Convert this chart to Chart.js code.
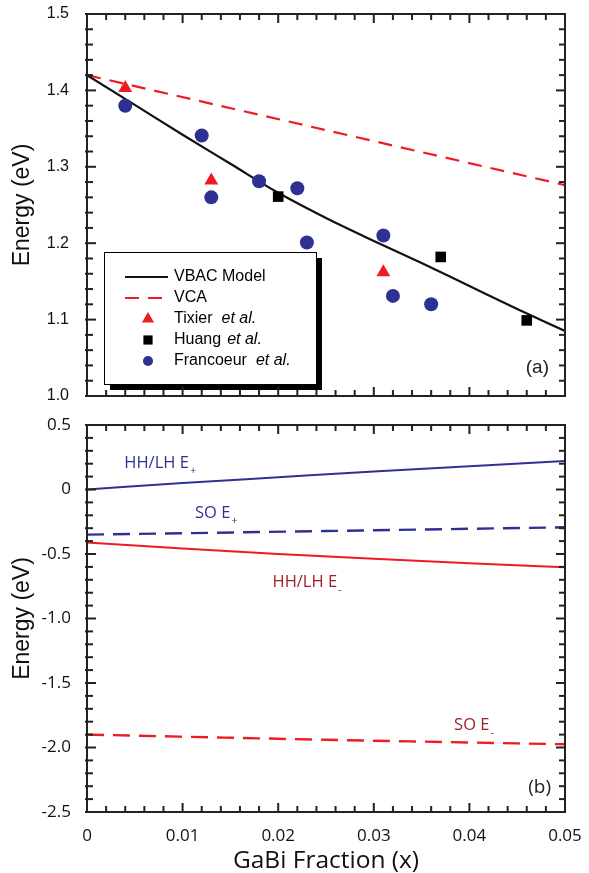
<!DOCTYPE html>
<html>
<head>
<script src="https://cdn.jsdelivr.net/npm/chart.js@4.4.1/dist/chart.umd.min.js"></script>
<style>
body{margin:0;background:#fff;}
canvas{position:absolute;left:0;}
#top{top:0;}
#bot{top:410px;}
</style>
</head>
<body>
<canvas id="top" width="589" height="410"></canvas>
<canvas id="bot" width="589" height="463"></canvas>
<script>
// panel (a): band gap vs GaBi fraction
var modelX=[0,0.005,0.01,0.015,0.02,0.025,0.03,0.035,0.04,0.045,0.05];
var vbacE=[1.42,1.381,1.342,1.304,1.266,1.233,1.203,1.174,1.144,1.114,1.085];
var vcaX=[0,0.05];
var vcaE=[1.42,1.276];
var tixierX=[0.004,0.013,0.031];
var tixierE=[1.403,1.282,1.162];
var huangX=[0.020,0.037,0.046];
var huangE=[1.261,1.182,1.099];
var francX=[0.004,0.012,0.013,0.018,0.022,0.023,0.031,0.032,0.036];
var francE=[1.380,1.341,1.260,1.281,1.272,1.201,1.210,1.131,1.120];

// panel (b): band edges
var hhPlusX=[0,0.01,0.02,0.03,0.04,0.05];
var hhPlusE=[0,0.05,0.095,0.14,0.18,0.22];
var soPlusX=[0,0.025,0.05];
var soPlusE=[-0.35,-0.322,-0.293];
var hhMinusX=[0,0.01,0.02,0.03,0.04,0.05];
var hhMinusE=[-0.41,-0.458,-0.50,-0.537,-0.571,-0.603];
var soMinusX=[0,0.025,0.05];
var soMinusE=[-1.90,-1.94,-1.975];

// curve labels in panel (b): text, subscript, x, y (data units)
var bandLabelText=['HH/LH E','SO E','HH/LH E','SO E'];
var bandLabelSub=['+','+','-','-'];
var bandLabelX=[0.0039,0.0113,0.0194,0.0384];
var bandLabelY=[0.2,-0.186,-0.72,-1.83];

var BLUE='#2e3192', RED='#ed1c24', DARKRED='#9e1f24';
var MYR='"Open Sans", "Noto Sans", sans-serif';
var HEL='"Liberation Sans", Arial, sans-serif';

function pts(xs,ys){ return xs.map(function(x,i){ return {x:x,y:ys[i]}; }); }

// fixed axis box sizes, no label overflow padding
function fixW(w){ return function(s){ s.width=w; s.paddingTop=0; s.paddingBottom=0; }; }
function fixH(h){ return function(s){ s.height=h; s.paddingLeft=0; s.paddingRight=0; }; }

// frame + inward ticks on all four sides
function frameTicks(xMaj,xMin,yMaj,yMin){
  return {
    id:'frameTicks',
    afterDraw:function(chart){
      var a=chart.chartArea,c=chart.ctx,xs=chart.scales.x,ys=chart.scales.y;
      c.save();
      c.setLineDash([]);
      c.strokeStyle='#222';
      c.lineWidth=2;
      c.strokeRect(a.left,a.top,a.right-a.left,a.bottom-a.top);
      c.fillStyle='#222';
      var n=Math.round((xs.max-xs.min)/xMin);
      for(var i=0;i<=n;i++){
        var v=xs.min+i*xMin, p=xs.getPixelForValue(v);
        var r=v/xMaj, L=Math.abs(r-Math.round(r))<1e-6?9:6;
        c.fillRect(p-1,a.bottom-L,2,L);
        c.fillRect(p-1,a.top,2,L);
      }
      n=Math.round((ys.max-ys.min)/yMin);
      for(i=0;i<=n;i++){
        v=ys.min+i*yMin; p=ys.getPixelForValue(v);
        r=v/yMaj; L=Math.abs(r-Math.round(r))<1e-6?9:6;
        c.fillRect(a.left-2,p-1,L+2,2);
        c.fillRect(a.right-L,p-1,L,2);
      }
      c.restore();
    }
  };
}

var legendBox={
  id:'legendBox',
  afterDatasetsDraw:function(chart){
    var a=chart.chartArea,c=chart.ctx;
    var x0=a.left+17,y0=a.bottom-144,w=212,h=132;
    c.save();
    c.fillStyle='#000';
    c.fillRect(x0+6,y0+6,w,h);
    c.fillStyle='#fff';
    c.fillRect(x0,y0,w,h);
    c.strokeStyle='#000';c.lineWidth=1;
    c.strokeRect(x0+0.5,y0+0.5,w,h);
    chart.data.datasets.forEach(function(ds,i){
      var y=y0+25+i*21;
      if(ds.showLine){
        c.strokeStyle=ds.borderColor;c.lineWidth=2;
        c.setLineDash(ds.borderDash||[]);
        c.beginPath();c.moveTo(x0+21,y);c.lineTo(x0+64,y);c.stroke();
        c.setLineDash([]);
      }else{
        c.fillStyle=ds.backgroundColor;c.strokeStyle=ds.backgroundColor;
        Chart.helpers.drawPoint(c,{pointStyle:ds.pointStyle,radius:ds.legendRadius,borderWidth:0,rotation:0},x0+44,y);
      }
      c.fillStyle='#000';c.textBaseline='middle';c.textAlign='left';
      var parts=ds.label.split(' et al.');
      c.font='16px '+HEL;
      c.fillText(parts[0],x0+70,y);
      if(ds.label.indexOf('et al.')>=0){
        var tw=c.measureText(parts[0]).width;
        c.font='italic 16px '+HEL;
        c.fillText('et al.',x0+70+tw+(ds.gap||6),y);
      }
    });
    c.font='19px '+HEL;c.textAlign='right';c.fillStyle='#222';
    c.fillText('(a)',a.right-16,a.bottom-28);
    c.restore();
  }
};

var bandLabels={
  id:'bandLabels',
  afterDatasetsDraw:function(chart){
    var c=chart.ctx,xs=chart.scales.x,ys=chart.scales.y,a=chart.chartArea;
    c.save();
    c.textBaseline='middle';c.textAlign='left';
    bandLabelText.forEach(function(t,i){
      var px=xs.getPixelForValue(bandLabelX[i]),py=ys.getPixelForValue(bandLabelY[i]);
      c.fillStyle=i<2?BLUE:DARKRED;
      c.font='16.5px '+MYR;
      c.fillText(t,px,py);
      var tw=c.measureText(t).width;
      c.font='11px '+MYR;
      c.fillText(bandLabelSub[i],px+tw+1,py+7);
    });
    c.font='19px '+MYR;c.textAlign='right';c.fillStyle='#222';
    c.fillText('(b)',a.right-14,a.bottom-24);
    c.restore();
  }
};

new Chart(document.getElementById('top'),{
  type:'scatter',
  data:{datasets:[
    {label:'VBAC Model',data:pts(modelX,vbacE),showLine:true,borderColor:'#111',borderWidth:2.2,pointRadius:0,cubicInterpolationMode:'monotone',order:2},
    {label:'VCA',data:pts(vcaX,vcaE),showLine:true,borderColor:RED,borderWidth:2.2,borderDash:[14,9],pointRadius:0,order:2},
    {label:'Tixier et al.',data:pts(tixierX,tixierE),pointStyle:'triangle',pointRadius:8,backgroundColor:RED,borderColor:RED,pointBorderWidth:0,legendRadius:7,gap:9,order:1},
    {label:'Huang et al.',data:pts(huangX,huangE),pointStyle:'rect',pointRadius:7.5,backgroundColor:'#000',borderColor:'#000',pointBorderWidth:0,legendRadius:6.5,gap:6,order:1},
    {label:'Francoeur et al.',data:pts(francX,francE),pointStyle:'circle',pointRadius:7,backgroundColor:BLUE,borderColor:BLUE,pointBorderWidth:0,legendRadius:5,gap:9,order:1}
  ]},
  options:{
    responsive:false,animation:false,
    layout:{padding:{top:14,right:24,left:0,bottom:0}},
    plugins:{legend:{display:false},tooltip:{enabled:false}},
    scales:{
      x:{type:'linear',min:0,max:0.05,grid:{display:false},border:{display:false},
         ticks:{display:false},afterFit:fixH(14)},
      y:{type:'linear',min:1.0,max:1.5,grid:{display:false},border:{display:false},
         ticks:{stepSize:0.1,padding:10,color:'#111',font:{family:HEL,size:16},
                callback:function(v){return v.toFixed(1);}},
         title:{display:true,text:'Energy (eV)',color:'#111',font:{family:HEL,size:23},padding:{top:9,bottom:0}},
         afterFit:fixW(87)}
    }
  },
  plugins:[legendBox,frameTicks(0.01,0.002,0.1,0.02)]
});

new Chart(document.getElementById('bot'),{
  type:'scatter',
  data:{datasets:[
    {label:'HH/LH E+',data:pts(hhPlusX,hhPlusE),showLine:true,borderColor:BLUE,borderWidth:2,pointRadius:0,cubicInterpolationMode:'monotone'},
    {label:'SO E+',data:pts(soPlusX,soPlusE),showLine:true,borderColor:BLUE,borderWidth:2.4,borderDash:[17,9],pointRadius:0,cubicInterpolationMode:'monotone'},
    {label:'HH/LH E-',data:pts(hhMinusX,hhMinusE),showLine:true,borderColor:RED,borderWidth:2,pointRadius:0,cubicInterpolationMode:'monotone'},
    {label:'SO E-',data:pts(soMinusX,soMinusE),showLine:true,borderColor:RED,borderWidth:2.4,borderDash:[17,9],pointRadius:0,cubicInterpolationMode:'monotone'}
  ]},
  options:{
    responsive:false,animation:false,
    layout:{padding:{top:15,right:24,left:0,bottom:0}},
    plugins:{legend:{display:false},tooltip:{enabled:false}},
    scales:{
      x:{type:'linear',min:0,max:0.05,grid:{display:false},border:{display:false},
         ticks:{stepSize:0.01,padding:6,color:'#111',maxRotation:0,font:{family:MYR,size:17},
                callback:function(v){return String(Number(v.toFixed(2)));}},
         title:{display:true,text:'GaBi Fraction (x)',color:'#111',font:{family:MYR,size:24.5,lineHeight:1},padding:{top:0,bottom:0}},
         afterFit:fixH(61)},
      y:{type:'linear',min:-2.5,max:0.5,grid:{display:false},border:{display:false},
         ticks:{stepSize:0.5,padding:8,color:'#111',font:{family:MYR,size:17},
                callback:function(v){return Math.abs(v)<1e-9?'0':v.toFixed(1);}},
         title:{display:true,text:'Energy (eV)',color:'#111',font:{family:HEL,size:23},padding:{top:9,bottom:0}},
         afterFit:fixW(87)}
    }
  },
  plugins:[bandLabels,frameTicks(0.01,0.002,0.5,0.1)]
});
</script>
</body>
</html>
